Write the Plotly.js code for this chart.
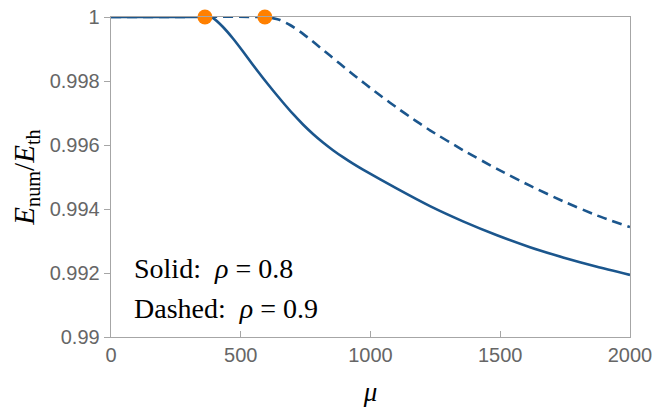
<!DOCTYPE html>
<html>
<head>
<meta charset="utf-8">
<script src="https://cdn.plot.ly/plotly-3.0.1.min.js"></script>
<style>html,body{margin:0;padding:0;background:#fff;}#chart{width:655px;height:408px;}</style>
</head>
<body>
<div id="chart"></div>
<script>
// Solid curve: rho = 0.8
const muSolid = [0, 362.2, 377.7, 393.1, 431.6, 470.1, 508.7, 547.2, 585.7, 624.3, 662.8, 701.4, 739.9, 778.4, 817.0, 855.5, 894.0, 932.6, 971.1, 1102.1, 1229.3, 1356.5, 1487.5, 1614.6, 1741.8, 1872.8, 2000];
const eSolid  = [1, 1, 0.999991, 0.999969, 0.999688, 0.999328, 0.998922, 0.998500, 0.998094, 0.997703, 0.997328, 0.996969, 0.996641, 0.996344, 0.996078, 0.995838, 0.995619, 0.995416, 0.995228, 0.994634, 0.994088, 0.993613, 0.993178, 0.992806, 0.992488, 0.992194, 0.991941];
// Dashed curve: rho = 0.9
const muDashed = [0, 593.5, 612.7, 651.3, 689.8, 728.3, 766.9, 805.4, 844.0, 882.5, 921.0, 959.6, 998.1, 1036.6, 1075.2, 1113.7, 1152.2, 1190.8, 1229.3, 1356.5, 1487.5, 1614.6, 1741.8, 1872.8, 2000];
const eDashed  = [1, 1, 0.999984, 0.999906, 0.999750, 0.999544, 0.999306, 0.999050, 0.998794, 0.998538, 0.998284, 0.998034, 0.997791, 0.997553, 0.997322, 0.997097, 0.996878, 0.996666, 0.996459, 0.995838, 0.995253, 0.994728, 0.994244, 0.993797, 0.993434];
// Onset points
const muOnset = [362, 593];
const eOnset  = [1, 1];

const xTicks = [0, 500, 1000, 1500, 2000];
const xTickText = ['0', '500', '1000', '1500', '2000'];
const yTicks = [0.99, 0.992, 0.994, 0.996, 0.998, 1];
const yTickText = ['0.99', '0.992', '0.994', '0.996', '0.998', '1'];

const lineColor = '#1b568d';
const axisColor = '#a6a6a6';
const serif = 'Liberation Serif, DejaVu Serif, serif';
const tickFont = {family: 'Liberation Sans, Arial, sans-serif', size: 20, color: '#666666'};

const traces = [
  {x: muSolid, y: eSolid, mode: 'lines', line: {color: lineColor, width: 2.6, shape: 'spline', smoothing: 0.5}, cliponaxis: false, hoverinfo: 'skip'},
  {x: muDashed, y: eDashed, mode: 'lines', line: {color: lineColor, width: 2.6, dash: '10px,6px', shape: 'spline', smoothing: 0.5}, cliponaxis: false, hoverinfo: 'skip'},
  {x: muOnset, y: eOnset, mode: 'markers', marker: {color: '#ff8000', size: 15}, cliponaxis: false, hoverinfo: 'skip'}
];

const layout = {
  width: 655, height: 408,
  margin: {l: 111, r: 25, t: 17, b: 71},
  paper_bgcolor: '#ffffff', plot_bgcolor: '#ffffff',
  showlegend: false,
  xaxis: {
    range: [0, 2000], tickvals: xTicks, ticktext: xTickText,
    showgrid: false, zeroline: false,
    showline: true, linecolor: axisColor, linewidth: 1.3, mirror: true,
    ticks: 'inside', ticklen: 6, tickcolor: axisColor, tickwidth: 1,
    tickfont: tickFont,
    title: {text: '<i>μ</i>', font: {family: serif, size: 27, color: '#000'}, standoff: 16}
  },
  yaxis: {
    range: [0.99, 1], tickvals: yTicks, ticktext: yTickText,
    showgrid: false, zeroline: false,
    showline: true, linecolor: axisColor, linewidth: 1.3, mirror: true,
    ticks: 'outside', ticklen: 6, tickcolor: axisColor, tickwidth: 1,
    tickfont: tickFont,
    title: {text: '<i>E</i><sub>num</sub>/<i>E</i><sub>th</sub>', font: {family: serif, size: 29, color: '#000'}, standoff: 6}
  },
  annotations: [
    {x: 81, y: 0.99213, xref: 'x', yref: 'y', xanchor: 'left', yanchor: 'middle', showarrow: false,
     text: 'Solid:  <i>ρ</i> = 0.8', font: {family: serif, size: 28, color: '#000'}},
    {x: 81, y: 0.99088, xref: 'x', yref: 'y', xanchor: 'left', yanchor: 'middle', showarrow: false,
     text: 'Dashed:  <i>ρ</i> = 0.9', font: {family: serif, size: 28, color: '#000'}}
  ]
};

Plotly.newPlot('chart', traces, layout, {staticPlot: true, displayModeBar: false});
</script>
</body>
</html>
